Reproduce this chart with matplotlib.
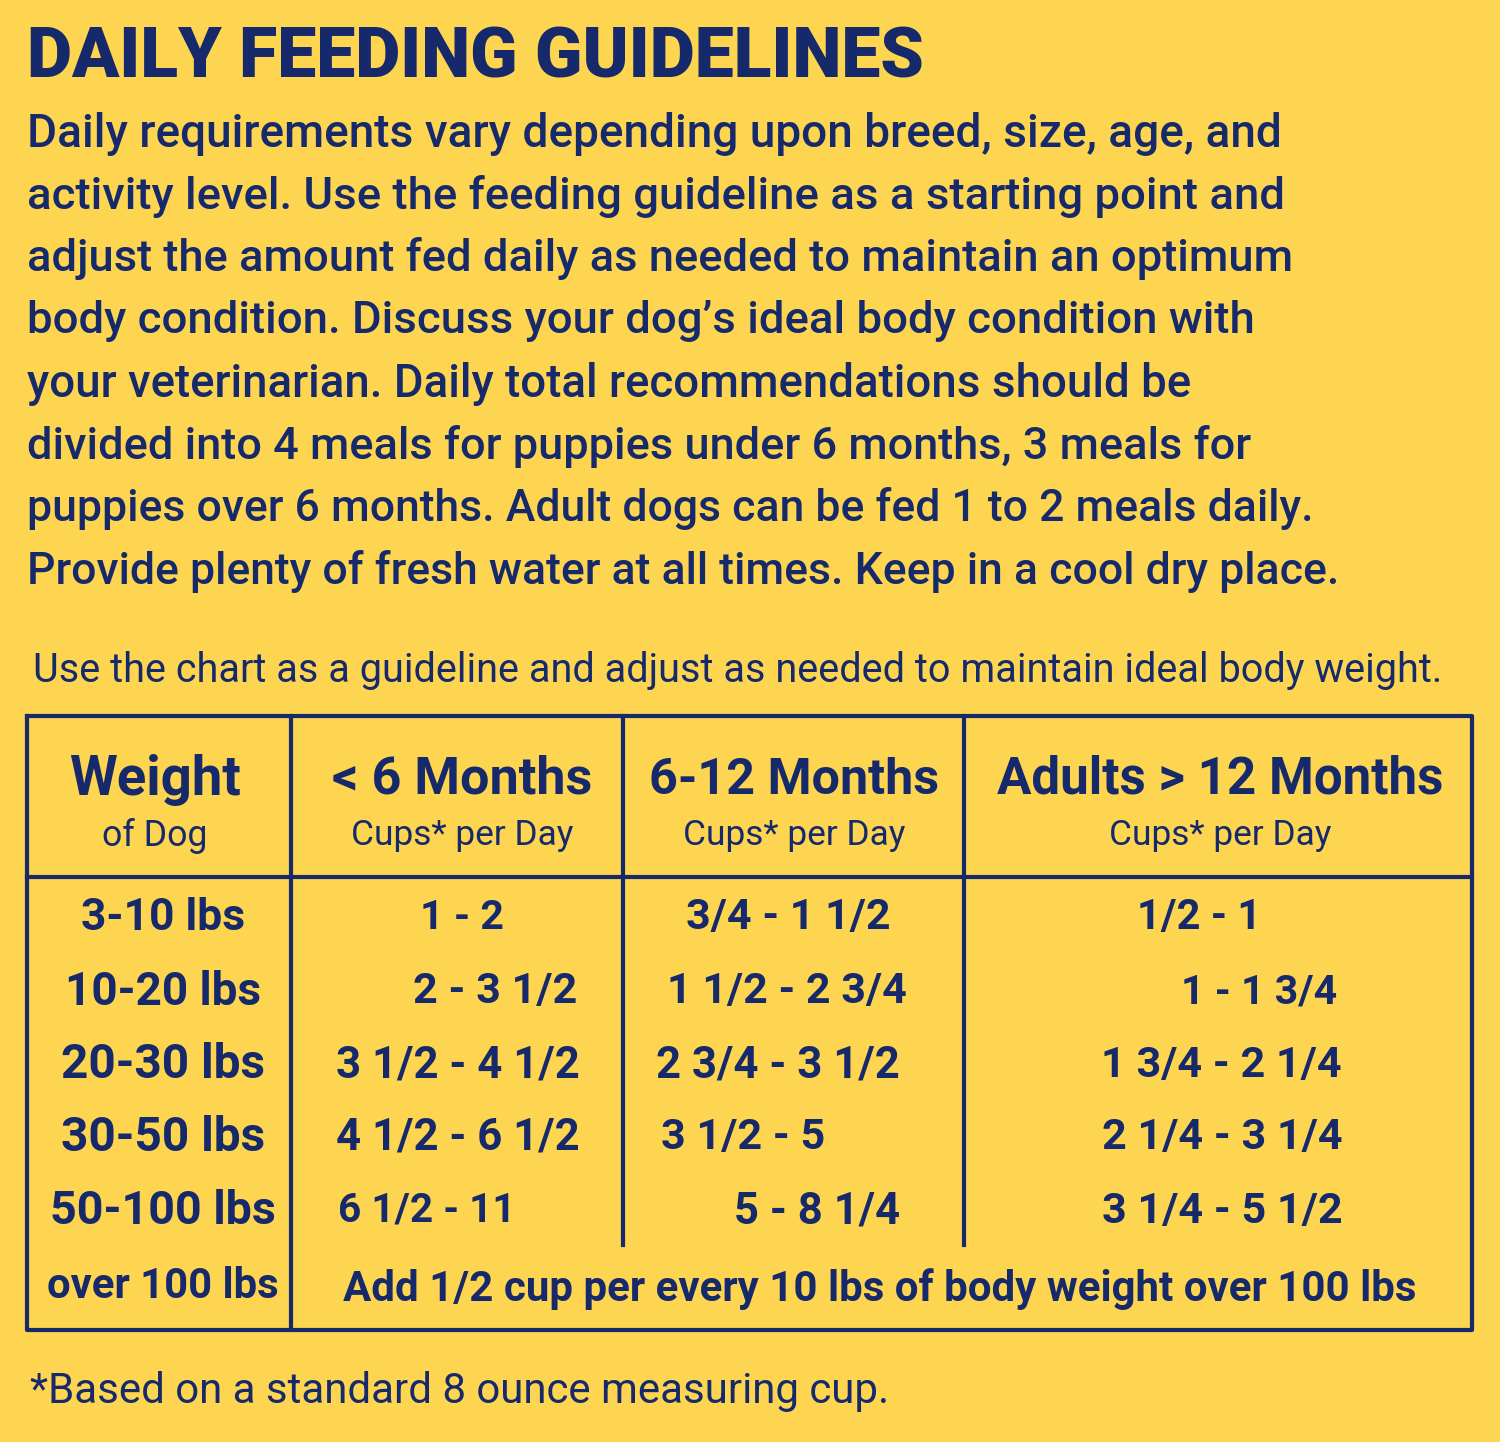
import matplotlib
matplotlib.use("Agg")
import matplotlib.pyplot as plt
from matplotlib import font_manager as fm

BG = "#FDD550"
NAVY = "#16296B"
names = {f.name for f in fm.fontManager.ttflist}
FONT = ["Liberation Sans Narrow", "Roboto", "DejaVu Sans"] if "Liberation Sans Narrow" in names else ["Roboto", "DejaVu Sans"]

title = "DAILY FEEDING GUIDELINES"
para = ["Daily requirements vary depending upon breed, size, age, and",
        "activity level. Use the feeding guideline as a starting point and",
        "adjust the amount fed daily as needed to maintain an optimum",
        "body condition. Discuss your dog\u2019s ideal body condition with",
        "your veterinarian. Daily total recommendations should be",
        "divided into 4 meals for puppies under 6 months, 3 meals for",
        "puppies over 6 months. Adult dogs can be fed 1 to 2 meals daily.",
        "Provide plenty of fresh water at all times. Keep in a cool dry place."]
para_w = [1253, 1253, 1263, 1225, 1162, 1222, 1282, 1310]
subtitle = "Use the chart as a guideline and adjust as needed to maintain ideal body weight."
headers = [("Weight", "of Dog"), ("< 6 Months", "Cups* per Day"),
           ("6-12 Months", "Cups* per Day"), ("Adults > 12 Months", "Cups* per Day")]
weights = ["3-10 lbs", "10-20 lbs", "20-30 lbs", "30-50 lbs", "50-100 lbs", "over 100 lbs"]
under6 = ["1 - 2", "2 - 3 1/2", "3 1/2 - 4 1/2", "4 1/2 - 6 1/2", "6 1/2 - 11"]
m6_12 = ["3/4 - 1 1/2", "1 1/2 - 2 3/4", "2 3/4 - 3 1/2", "3 1/2 - 5", "5 - 8 1/4"]
adults = ["1/2 - 1", "1 - 1 3/4", "1 3/4 - 2 1/4", "2 1/4 - 3 1/4", "3 1/4 - 5 1/2"]
over100 = "Add 1/2 cup per every 10 lbs of body weight over 100 lbs"
footnote = "*Based on a standard 8 ounce measuring cup."

fig = plt.figure(figsize=(15, 14.42), dpi=100, facecolor=BG)
ax = fig.add_axes([0, 0, 1, 1])
ax.set_xlim(0, 1500); ax.set_ylim(1442, 0); ax.axis("off")
ax.set_facecolor(BG)
fig.canvas.draw()
r = fig.canvas.get_renderer()

def put(x, y, s, w, ha="left", weight="bold", size=30, font=FONT):
    t = ax.text(x, y, s, ha=ha, va="center", color=NAVY, fontsize=size,
                fontweight=weight, family=font)
    bw = t.get_window_extent(r).width
    t.set_fontsize(size * w / bw)
    return t

put(27, 58, title, 897, weight="heavy", font=["Roboto", "DejaVu Sans"])
for i, (s, w) in enumerate(zip(para, para_w)):
    put(27, 134 + i * 62.5, s, w, weight="medium", font=["Roboto", "DejaVu Sans"])
put(33, 671, subtitle, 1405, weight="normal")

# table lines
lw = 3
ax.plot([27, 1472, 1472, 27, 27], [716, 716, 1330, 1330, 716], color=NAVY, lw=lw)
ax.plot([27, 1472], [877, 877], color=NAVY, lw=lw)
ax.plot([291, 291], [716, 1330], color=NAVY, lw=lw)
for xv in (623, 964):
    ax.plot([xv, xv], [716, 1245], color=NAVY, lw=lw)

hx = [155, 462, 794, 1220]
hw = [172, 260, 290, 446]
sw = [105, 222, 222, 222]
for (a, b), x, w1, w2 in zip(headers, hx, hw, sw):
    put(x, 780, a, w1, ha="center")
    put(x, 836, b, w2, ha="center", weight="normal")

rows_y = [918, 992, 1065, 1138, 1211, 1287]
ww = [164, 196, 204, 204, 226, 232]
for s, y, w in zip(weights, rows_y, ww):
    put(163, y, s, w, ha="center")
c2x = [462, 495, 458, 458, 427]; c2w = [84, 164, 244, 244, 178]
c3x = [788, 787, 778, 743, 817]; c3w = [204, 240, 244, 164, 166]
c4x = [1199, 1259, 1221, 1222, 1222]; c4w = [124, 156, 240, 240, 240]
for i in range(5):
    put(c2x[i], rows_y[i], under6[i], c2w[i], ha="center")
    put(c3x[i], rows_y[i], m6_12[i], c3w[i], ha="center")
    put(c4x[i], rows_y[i], adults[i], c4w[i], ha="center")
put(880, 1289, over100, 1072, ha="center")
put(30, 1392, footnote, 858, weight="normal", font=["Roboto", "DejaVu Sans"])

fig.savefig("out.png", dpi=100, facecolor=BG)
